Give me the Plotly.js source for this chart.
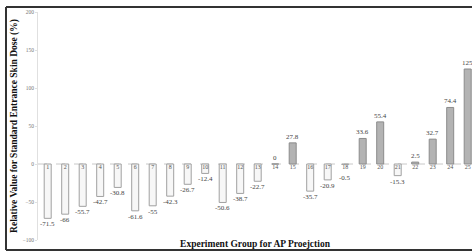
<!DOCTYPE html>
<html><head><meta charset="utf-8">
<script src="https://cdn.plot.ly/plotly-3.0.1.min.js"></script>
<style>html,body{margin:0;padding:0;background:#fff}#c{width:472px;height:252px}</style>
</head><body><div id="c"></div>
<script>
const categories = ["1","2","3","4","5","6","7","8","9","10","11","12","13","14","15","16","17","18","19","20","21","22","23","24","25"];
const values = [-71.5,-66,-55.7,-42.7,-30.8,-61.6,-55,-42.3,-26.7,-12.4,-50.6,-38.7,-22.7,0,27.8,-35.7,-20.9,-0.5,33.6,55.4,-15.3,2.5,32.7,74.4,125];
const yTicks = [-100,-50,0,50,100,150,200];
const labelFont = "Liberation Serif, Times New Roman, serif";

const bars = {
  type: 'bar', x: categories, y: values, width: 0.4,
  marker: {
    color: values.map(v => v < 0 ? '#f7f7f7' : '#b3b3b3'),
    line: {color: values.map(v => v < 0 ? '#a0a0a0' : '#8c8c8c'), width: 1}
  },
  hoverinfo: 'none'
};
const catLabels = {
  type: 'scatter', mode: 'text', x: categories, y: categories.map(() => 0),
  text: categories, textposition: 'bottom center',
  textfont: {family: labelFont, size: 6, color: '#555'}, hoverinfo: 'none'
};

const annotations = values.map((v, i) => ({
  x: i, y: v < 0 ? Math.min(v, -10) : v,
  xref: 'x', yref: 'y', text: String(v), showarrow: false,
  yanchor: v < 0 ? 'top' : 'bottom', yshift: v < 0 ? 0 : 0,
  font: {family: labelFont, size: 7, color: '#444'}
}));

const layout = {
  width: 472, height: 252,
  margin: {l: 38, r: 0, t: 12, b: 12},
  paper_bgcolor: '#fff', plot_bgcolor: '#fff',
  showlegend: false,
  xaxis: {type: 'category', range: [-0.554, 24.246], showticklabels: false, showline: false,
          showgrid: false, zeroline: false, ticks: '',
          title: {text: '<b>Experiment Group for AP Proejction</b>', standoff: 0,
                  font: {family: labelFont, size: 9.5, color: '#111'}}},
  yaxis: {range: [-100, 200], tickvals: yTicks, showgrid: false, zeroline: false,
          showline: true, linecolor: '#e0e0e0', linewidth: 1,
          ticks: 'outside', ticklen: 2, tickcolor: '#e0e0e0',
          tickfont: {family: labelFont, size: 5.5, color: '#777'},
          title: {text: '<b>Relative Value for Standard Entrance Skin Dose (%)</b>', standoff: 3,
                  font: {family: labelFont, size: 9.5, color: '#111'}}},
  annotations: annotations,
  shapes: [
    {type: 'line', xref: 'paper', yref: 'y', x0: 0, x1: 1, y0: 0, y1: 0,
     line: {color: '#c8c8c8', width: 1, dash: 'dash'}, layer: 'below'},
    {type: 'line', xref: 'paper', yref: 'paper', x0: -0.0737, x1: 1.05, y0: 1.0219, y1: 1.0219,
     line: {color: '#333', width: 2}},
    {type: 'line', xref: 'paper', yref: 'paper', x0: -0.0737, x1: 1.05, y0: -0.0439, y1: -0.0439,
     line: {color: '#333', width: 2}},
    {type: 'line', xref: 'paper', yref: 'paper', x0: -0.0737, x1: -0.0737, y0: -0.0439, y1: 1.0219,
     line: {color: '#333', width: 2}}
  ]
};
Plotly.newPlot('c', [bars, catLabels], layout, {staticPlot: true, displayModeBar: false});
</script></body></html>
